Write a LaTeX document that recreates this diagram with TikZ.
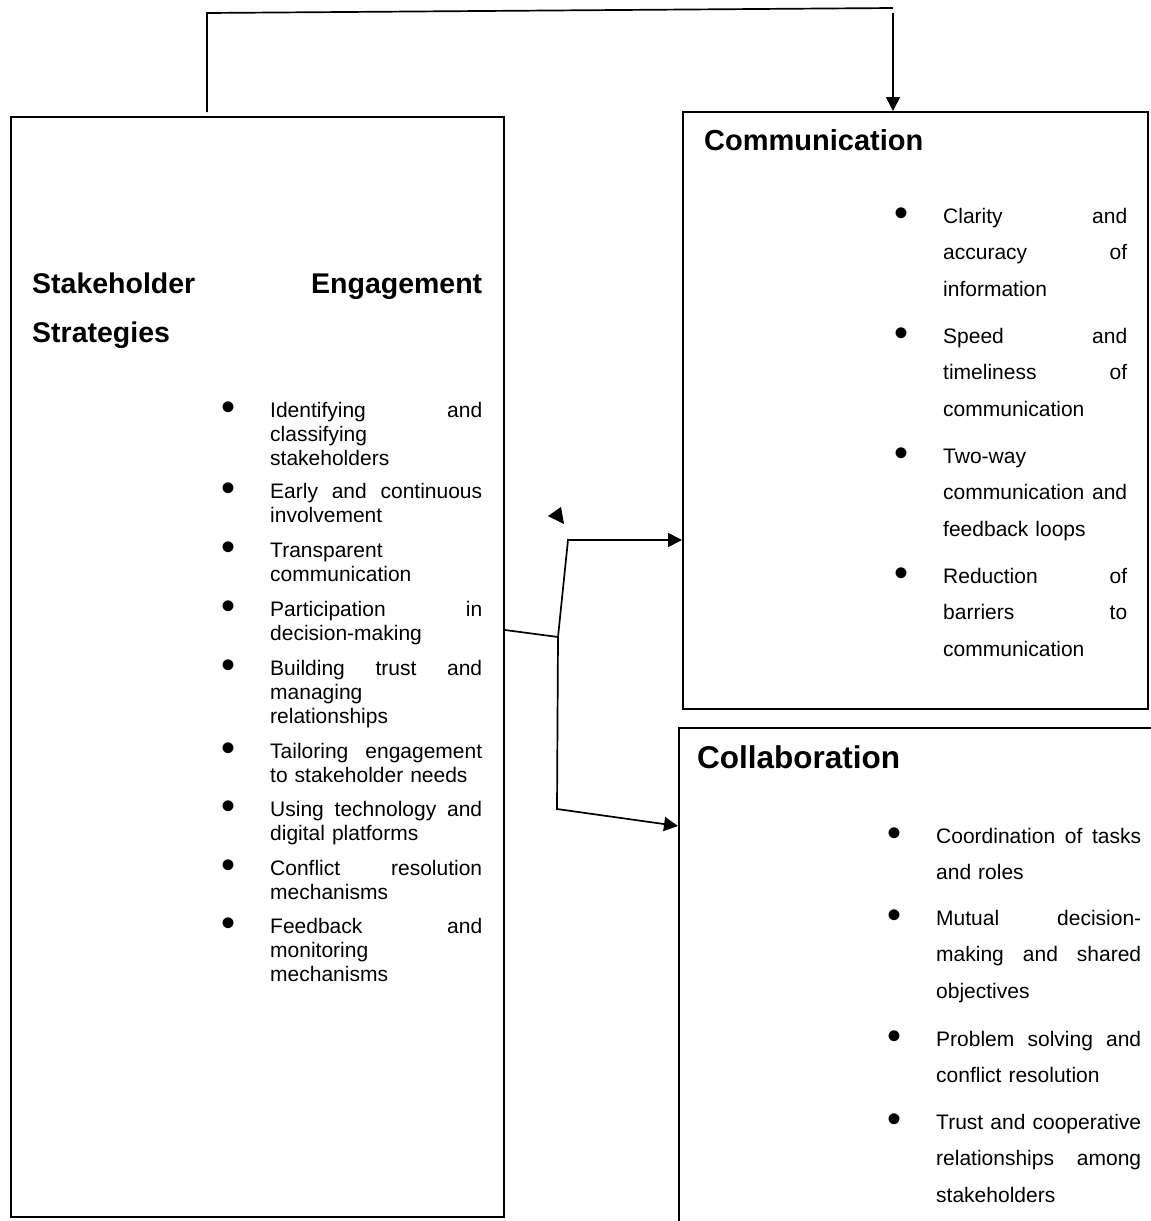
\documentclass[tikz,border=0pt]{standalone}
\usepackage{fontspec}
\setmainfont{Liberation Sans}
\usetikzlibrary{arrows.meta}

\newcommand{\itembul}{\noindent\llap{\raisebox{-3pt}{\fontsize{40}{40}\selectfont\textbullet}\hspace{35pt}}}

\begin{document}
\begin{tikzpicture}
  [x=1pt,y=-1pt,
   box_style/.style={draw=black,line width=2pt,inner sep=0pt,anchor=north west},
   title_style/.style={inner sep=0pt,anchor=base west,font=\bfseries},
   item_style/.style={inner sep=0pt,anchor=base west,execute at begin node=\itembul},
   left_item/.style={item_style,text width=212pt,font=\fontsize{21}{24.3}\selectfont},
   right_item/.style={item_style,font=\fontsize{21}{36.8}\selectfont},
   edge_style/.style={draw=black,line width=1.7pt},
   arrow_style/.style={edge_style,-{Triangle[length=14pt,width=14pt]}}]
  \clip (0,0) rectangle (1151,1221);

  % boxes
  \node[box_style,minimum width=493pt,minimum height=1100pt] (ses) at (10,116) {};
  \node[box_style,minimum width=465pt,minimum height=597pt] (comm) at (682,111) {};
  \node[box_style,minimum width=485pt,minimum height=520pt] (coll) at (678,727) {};

  % titles
  \node[title_style,text width=450pt,font=\bfseries\fontsize{28.5}{49}\selectfont] (ses_title) at (32,293) {Stakeholder\hfill Engagement\\Strategies};
  \node[title_style,font=\bfseries\fontsize{29}{29}\selectfont] (comm_title) at (704,150) {Communication};
  \node[title_style,font=\bfseries\fontsize{31.5}{31.5}\selectfont] (coll_title) at (697,768) {Collaboration};

  % strategies
  \node[left_item] (s1) at (270,417) {Identifying\hfill and\\classifying\\stakeholders};
  \node[left_item] (s2) at (270,498) {Early\hfill and\hfill continuous\\involvement};
  \node[left_item] (s3) at (270,557) {Transparent\\communication};
  \node[left_item] (s4) at (270,616) {Participation\hfill in\\decision-making};
  \node[left_item] (s5) at (270,675) {Building\hfill trust\hfill and\\managing\\relationships};
  \node[left_item] (s6) at (270,758) {Tailoring\hfill engagement\\to stakeholder needs};
  \node[left_item] (s7) at (270,816) {Using\hfill technology\hfill and\\digital platforms};
  \node[left_item] (s8) at (270,875) {Conflict\hfill resolution\\mechanisms};
  \node[left_item] (s9) at (270,933) {Feedback\hfill and\\monitoring\\mechanisms};

  % communication
  \node[right_item,text width=184pt] (c1) at (943,223) {Clarity\hfill and\\accuracy\hfill of\\information};
  \node[right_item,text width=184pt] (c2) at (943,343) {Speed\hfill and\\timeliness\hfill of\\communication};
  \node[right_item,text width=184pt] (c3) at (943,463) {Two-way\\communication\hfill and\\feedback loops};
  \node[right_item,text width=184pt] (c4) at (943,583) {Reduction\hfill of\\barriers\hfill to\\communication};

  % collaboration
  \node[right_item,text width=205pt] (k1) at (936,843) {Coordination\hfill of\hfill tasks\\and roles};
  \node[right_item,text width=205pt] (k2) at (936,925) {Mutual\hfill decision-\\making\hfill and\hfill shared\\objectives};
  \node[right_item,text width=205pt] (k3) at (936,1046) {Problem\hfill solving\hfill and\\conflict resolution};
  \node[right_item,text width=205pt] (k4) at (936,1129) {Trust\hfill and\hfill cooperative\\relationships\hfill among\\stakeholders};

  % connectors
  \coordinate (top_l) at (207,13);
  \coordinate (top_r) at (893,8);
  \coordinate (junc) at (558,637);
  \coordinate (up_k) at (568,540);
  \coordinate (dn_k) at (557,809);
  \draw[edge_style,shorten <=4pt] (ses.north -| top_l) -- (top_l) -- (top_r);
  \draw[arrow_style] ([yshift=-5pt]top_r) -- (comm.north -| top_r);
  \draw[edge_style] ([yshift=37pt]ses.east) -- (junc);
  \draw[arrow_style] (junc) -- (up_k) -- (comm.west |- up_k);
  \draw[arrow_style] (junc) -- (dn_k) -- ([yshift=162pt]coll.west);
  \fill (548,516) -- (561,507) -- (564,524) -- cycle;
\end{tikzpicture}
\end{document}
